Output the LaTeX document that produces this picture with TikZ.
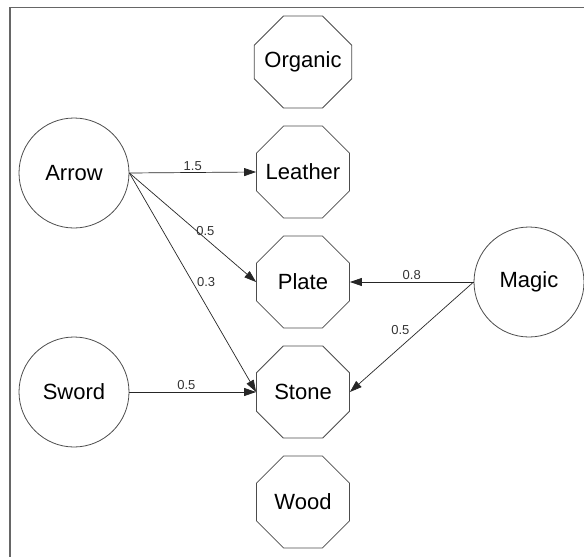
\documentclass[tikz,border=0pt]{standalone}
\usepackage{fontspec}
\setmainfont{Liberation Sans}
\usetikzlibrary{shapes.misc,arrows.meta}
\begin{document}
\begin{tikzpicture}[x=1pt, y=-1pt,
            weapon/.style={circle, draw=black!70, line width=0.8pt, minimum size=110pt, inner sep=0pt, font=\fontsize{22}{24}\selectfont},
            armor/.style={chamfered rectangle, chamfered rectangle xsep=19pt, chamfered rectangle ysep=19pt, draw=black!70, line width=0.8pt, minimum width=93pt, minimum height=92pt, inner sep=0pt, font=\fontsize{22}{24}\selectfont},
            hit/.style={draw=black!85, line width=0.7pt, -{Triangle[length=12pt,width=8pt]}},
            weight/.style={font=\fontsize{13}{15}\selectfont, text=black!80, inner sep=2pt}
        ]
            \useasboundingbox (0,0) rectangle (584,557);
            \draw[black!60, line width=1.2pt] (10,557) -- (10,7.5) -- (584,7.5);
            % armor types
            \node(organicnode) at (303,62) [armor] {Organic};
            \node(leathernode) at (303,172) [armor] {Leather};
            \node(platenode) at (303,282) [armor] {Plate};
            \node(stonenode) at (303,392) [armor] {Stone};
            \node(woodnode) at (303,502) [armor] {Wood};
            % attack types
            \node(arrownode) at (74,173) [weapon] {Arrow};
            \node(swordnode) at (74,392) [weapon] {Sword};
            \node(magicnode) at (529,282) [weapon] {Magic};
            % multipliers
            \draw[hit] (arrownode.east) -- node[weight, above] {1.5} (leathernode.west);
            \draw[hit] (arrownode.east) -- node[weight, pos=0.6, above] {0.5} (platenode.west);
            \draw[hit] (arrownode.east) -- node[weight, pos=0.5, right=2pt] {0.3} (stonenode.west);
            \draw[hit] (swordnode.east) -- node[weight, pos=0.45, above] {0.5} (stonenode.west);
            \draw[hit] (magicnode.west) -- node[weight, above] {0.8} (platenode.east);
            \draw[hit] (magicnode.west) -- node[weight, above left] {0.5} (stonenode.east);
        \end{tikzpicture}
\end{document}
